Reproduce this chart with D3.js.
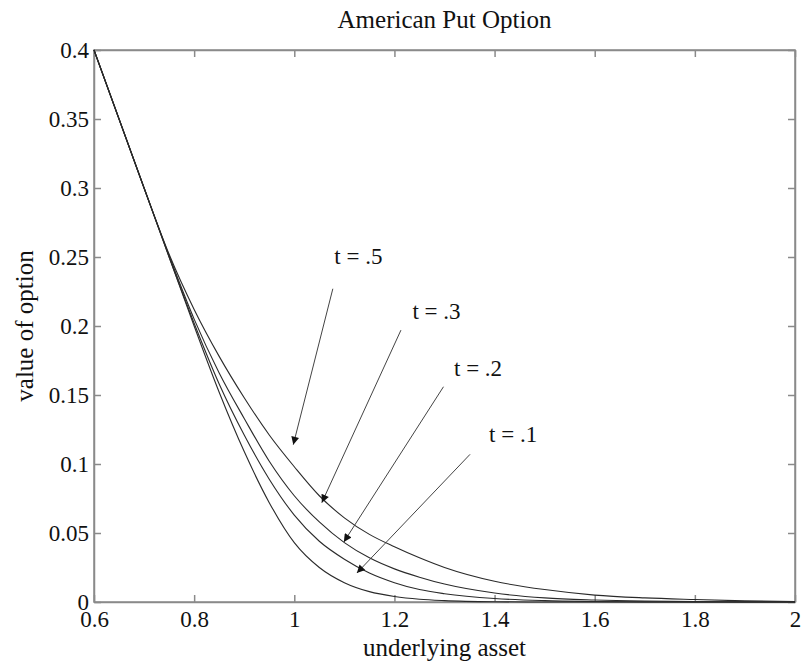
<!DOCTYPE html>
<html>
<head>
<meta charset="utf-8">
<script src="https://cdn.jsdelivr.net/npm/d3@7"></script>
<style>
  html, body { margin: 0; padding: 0; background: #fff; }
  svg { display: block; }
  text { font-family: "Liberation Serif", "Times New Roman", serif; fill: #111; }
</style>
</head>
<body>
<svg id="chart" width="805" height="666"></svg>
<script>
// ---- data ----
const title = "American Put Option";
const xLabel = "underlying asset";
const yLabel = "value of option";
const xTicks = [0.6, 0.8, 1, 1.2, 1.4, 1.6, 1.8, 2];
const yTicks = [0, 0.05, 0.1, 0.15, 0.2, 0.25, 0.3, 0.35, 0.4];
const assetPrices = [0.6, 0.7, 0.75, 0.8, 0.85, 0.9, 0.95, 1.0, 1.05, 1.1, 1.15, 1.2, 1.25, 1.3, 1.4, 1.5, 1.6, 1.7, 1.8, 1.9, 2.0];
const valueT05 = [0.400, 0.300, 0.252, 0.212, 0.178, 0.148, 0.121, 0.098, 0.077, 0.061, 0.049, 0.040, 0.032, 0.025, 0.015, 0.009, 0.005, 0.003, 0.0018, 0.0008, 0.0003];
const valueT03 = [0.400, 0.300, 0.251, 0.205, 0.166, 0.133, 0.102, 0.077, 0.058, 0.043, 0.032, 0.024, 0.018, 0.013, 0.0065, 0.003, 0.0015, 0.0007, 0.0003, 0.0001, 0.0];
const valueT02 = [0.400, 0.300, 0.250, 0.202, 0.158, 0.121, 0.089, 0.063, 0.044, 0.031, 0.021, 0.014, 0.009, 0.006, 0.0025, 0.001, 0.0004, 0.0001, 0.0, 0.0, 0.0];
const valueT01 = [0.400, 0.300, 0.250, 0.200, 0.152, 0.109, 0.072, 0.043, 0.025, 0.014, 0.0075, 0.004, 0.002, 0.001, 0.0002, 0.0, 0.0, 0.0, 0.0, 0.0, 0.0];
const annotLabels = ["t = .5", "t = .3", "t = .2", "t = .1"];
const annotTail = [[1.077, 0.227], [1.213, 0.197], [1.298, 0.156], [1.351, 0.107]];
const annotTip  = [[0.998, 0.114], [1.055, 0.072], [1.099, 0.0435], [1.125, 0.021]];
const annotText = [[1.080, 0.245], [1.236, 0.205], [1.319, 0.164], [1.389, 0.116]];

// ---- layout ----
const svg = d3.select("#chart");
const margin = {left: 94, right: 10, top: 50, bottom: 64};
const W = 805, H = 666;
const x = d3.scaleLinear().domain([0.6, 2]).range([margin.left, W - margin.right]);
const y = d3.scaleLinear().domain([0, 0.4]).range([H - margin.bottom, margin.top]);

const axisColor = "#8a8a8a";
const tickFont = 23;
const labelFont = 25;
const serif = '"Liberation Serif", "Times New Roman", serif';

// frame box
svg.append("rect")
  .attr("x", x(0.6)).attr("y", y(0.4))
  .attr("width", x(2) - x(0.6)).attr("height", y(0) - y(0.4))
  .attr("fill", "none").attr("stroke", axisColor).attr("stroke-width", 1.5);

// axes (inward ticks)
const tickLen = 7;
const gx = svg.append("g").attr("transform", `translate(0,${y(0)})`)
  .call(d3.axisBottom(x).tickValues(xTicks).tickSizeInner(-tickLen).tickSizeOuter(0).tickPadding(9).tickFormat(d => String(d)));
const gxTop = svg.append("g").attr("transform", `translate(0,${y(0.4)})`)
  .call(d3.axisTop(x).tickValues(xTicks).tickSizeInner(-tickLen).tickSizeOuter(0).tickFormat(""));
const gy = svg.append("g").attr("transform", `translate(${x(0.6)},0)`)
  .call(d3.axisLeft(y).tickValues(yTicks).tickSizeInner(-tickLen).tickSizeOuter(0).tickPadding(5).tickFormat(d => String(d)));
const gyR = svg.append("g").attr("transform", `translate(${x(2)},0)`)
  .call(d3.axisRight(y).tickValues(yTicks).tickSizeInner(-tickLen).tickSizeOuter(0).tickFormat(""));

[gx, gxTop, gy, gyR].forEach(g => {
  g.select(".domain").attr("stroke", axisColor).attr("stroke-width", 1.5);
  g.selectAll(".tick line").attr("stroke", axisColor).attr("stroke-width", 1.5);
  g.selectAll(".tick text")
    .style("font-family", serif)
    .style("font-size", tickFont + "px").attr("fill", "#111");
});
gy.selectAll(".tick text").attr("dy", "0.33em");

// curves
const series = [valueT05, valueT03, valueT02, valueT01];
const line = d3.line().x(d => x(d[0])).y(d => y(d[1])).curve(d3.curveMonotoneX);
series.forEach(vals => {
  svg.append("path")
    .datum(assetPrices.map((s, i) => [s, vals[i]]))
    .attr("d", line)
    .attr("fill", "none").attr("stroke", "#2a2a2a").attr("stroke-width", 1.1);
});

// annotations with arrows
const defs = svg.append("defs");
defs.append("marker").attr("id", "arrowhead")
  .attr("viewBox", "0 0 10 10").attr("refX", 10).attr("refY", 5)
  .attr("markerWidth", 11).attr("markerHeight", 8).attr("markerUnits", "userSpaceOnUse")
  .attr("orient", "auto")
  .append("path").attr("d", "M0,0 L10,5 L0,10 Z").attr("fill", "#111");

annotLabels.forEach((lab, i) => {
  svg.append("line")
    .attr("x1", x(annotTail[i][0])).attr("y1", y(annotTail[i][1]))
    .attr("x2", x(annotTip[i][0])).attr("y2", y(annotTip[i][1]))
    .attr("stroke", "#444").attr("stroke-width", 1)
    .attr("marker-end", "url(#arrowhead)");
  svg.append("text")
    .attr("x", x(annotText[i][0])).attr("y", y(annotText[i][1]))
    .style("font-size", tickFont + "px")
    .text(lab);
});

// title and axis labels
svg.append("text")
  .attr("x", (x(0.6) + x(2)) / 2).attr("y", 28)
  .attr("text-anchor", "middle").style("font-size", labelFont + "px")
  .text(title);
svg.append("text")
  .attr("x", (x(0.6) + x(2)) / 2).attr("y", 656)
  .attr("text-anchor", "middle").style("font-size", labelFont + "px")
  .text(xLabel);
svg.append("text")
  .attr("transform", `translate(33,${(y(0) + y(0.4)) / 2}) rotate(-90)`)
  .attr("text-anchor", "middle").style("font-size", labelFont + "px")
  .text(yLabel);
</script>
</body>
</html>
